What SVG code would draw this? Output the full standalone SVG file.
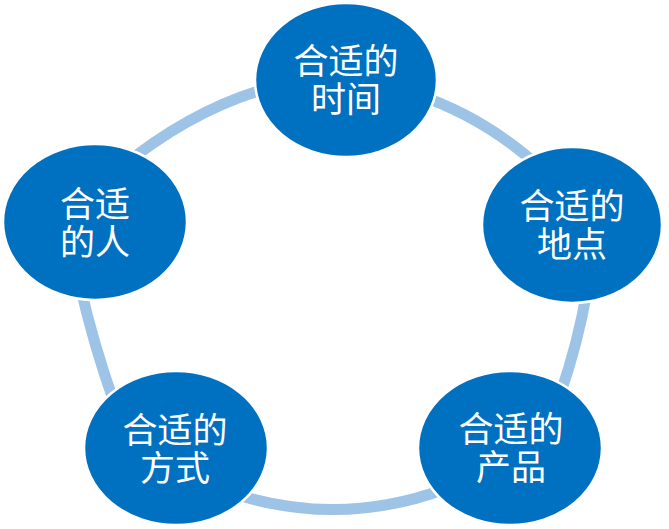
<svg xmlns="http://www.w3.org/2000/svg" width="669" height="529" viewBox="0 0 669 529">
<style>
.ring{fill:none;stroke:#9DC3E6;stroke-width:11}
.node{fill:#0070C0;stroke:#FFFFFF;stroke-width:2.5}
.lbl{fill:#FFFFFF;font-family:"Noto Sans CJK SC","Noto Sans",sans-serif;font-size:35px;text-anchor:middle}
</style>
<rect width="669" height="529" fill="#FFFFFF"/>
<g id="connectors">
<path class="ring" d="M120,168 Q201.5,102 285,84"/>
<path class="ring" d="M415,94 Q486,117 545,172"/>
<path class="ring" d="M587,290 Q578.5,341.5 560,395"/>
<path class="ring" d="M445,489 Q340,527.5 235,494"/>
<path class="ring" d="M115,405 Q93.5,345 80,285"/>
</g>
<g id="node-time">
<ellipse class="node" cx="346" cy="80" rx="91" ry="77"/>
<text class="lbl"><tspan x="346" y="74">合适的</tspan><tspan x="346" y="112">时间</tspan></text>
</g>
<g id="node-place">
<ellipse class="node" cx="572" cy="225" rx="90" ry="78"/>
<text class="lbl"><tspan x="572" y="219">合适的</tspan><tspan x="572" y="257">地点</tspan></text>
</g>
<g id="node-product">
<ellipse class="node" cx="510" cy="448" rx="92" ry="77"/>
<text class="lbl"><tspan x="511" y="442">合适的</tspan><tspan x="511" y="480">产品</tspan></text>
</g>
<g id="node-method">
<ellipse class="node" cx="176" cy="448" rx="92" ry="77"/>
<text class="lbl"><tspan x="175" y="443">合适的</tspan><tspan x="175" y="481">方式</tspan></text>
</g>
<g id="node-people">
<ellipse class="node" cx="95" cy="222" rx="92" ry="78"/>
<text class="lbl"><tspan x="95" y="217">合适</tspan><tspan x="95" y="255">的人</tspan></text>
</g>
</svg>
